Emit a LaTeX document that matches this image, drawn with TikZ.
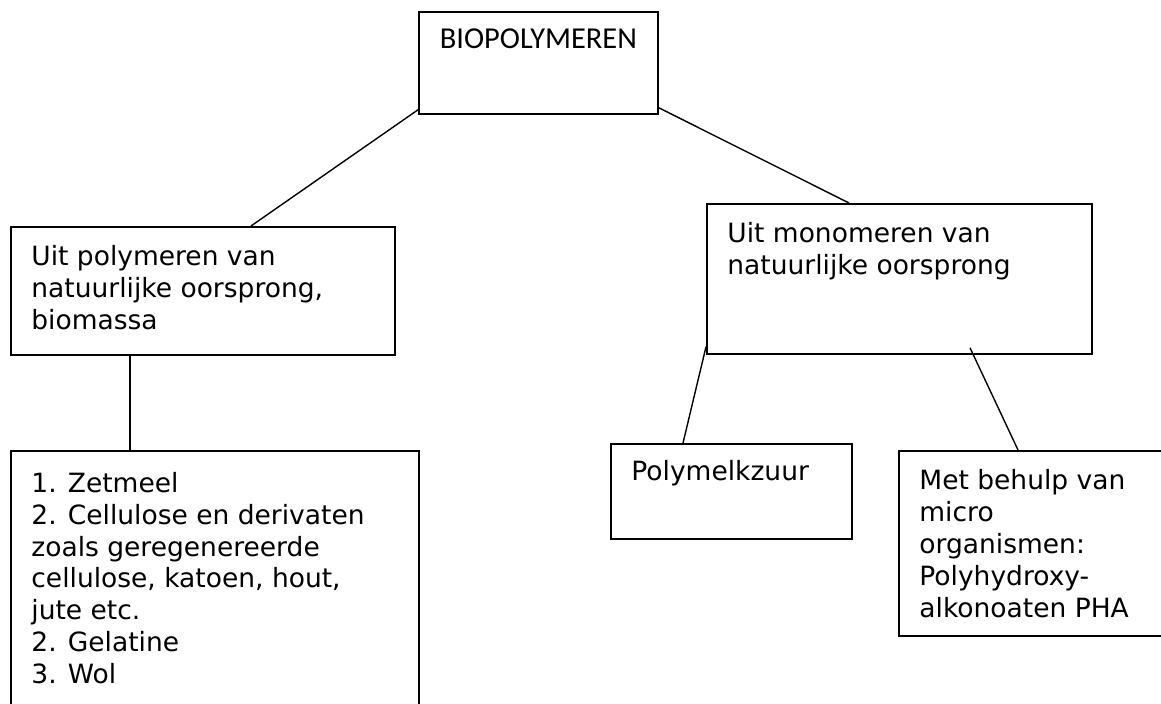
\documentclass[tikz,border=0pt]{standalone}
\usepackage{fontspec}
\newfontfamily\verdfont{DejaVu Sans}
\newfontfamily\califont{Carlito}
\usetikzlibrary{positioning}
\tikzset{blok/.style={draw=black, line width=.9pt, inner sep=0pt, anchor=north west}, lijn/.style={draw=black, line width=.7pt},
  tekst/.style={anchor=north west, align=left, inner xsep=10.5pt, inner ysep=9.5pt, font=\verdfont\fontsize{13.25}{15.9}\selectfont}}

\begin{document}
\begin{tikzpicture}[x=.5pt,y=-.5pt]
                 \useasboundingbox(0,0) rectangle (1161,704);
                 \clip(0,0) rectangle (1161,704);
                 \node[blok, minimum width=119.5pt, minimum height=51pt, label={[anchor=north, inner ysep=8.5pt, font=\califont\fontsize{15.2}{18}\selectfont]north:{BIOPOLYMEREN}}] (bio) at (418,11) {};
                 \node[blok, minimum width=192pt, minimum height=64pt, label={[tekst]north west:{Uit polymeren van\\natuurlijke oorsprong,\\biomassa}}] (nat) at (10,226) {};
                 \node[blok, minimum width=192.5pt, minimum height=75pt, label={[tekst]north west:{Uit monomeren van\\natuurlijke oorsprong}}] (mono) at (706,203) {};
                 \node[blok, minimum width=204pt, minimum height=150pt, label={[tekst, inner ysep=11pt]north west:{1. Zetmeel\\2. Cellulose en derivaten\\zoals geregenereerde\\cellulose, katoen, hout,\\jute etc.\\2. Gelatine\\3. Wol}}] (lijst) at (10,450) {};
                 \node[blok, minimum width=120.5pt, minimum height=47.5pt, label={[tekst, inner ysep=8.5pt]north west:{Polymelkzuur}}] (pla) at (610,443) {};
                 \node[blok, minimum width=160pt, minimum height=92.5pt, label={[tekst, font=\verdfont\fontsize{13.25}{16}\selectfont]north west:{Met behulp van\\micro\\organismen:\\Polyhydroxy-\\alkonoaten PHA}}] (pha) at (898,450) {};
                 \draw[lijn]([yshift=2.5pt]bio.south west)--([xshift=120.5pt]nat.north west);
                 \draw[lijn]([yshift=3.5pt]bio.south east)--([xshift=71.5pt]mono.north west);
                 \draw[lijn]([xshift=60pt]nat.south west)--([xshift=60pt]lijst.north west);
                 \draw[lijn]([yshift=4pt]mono.south west)--([xshift=36.5pt]pla.north west);
                 \draw[lijn]([xshift=132pt,yshift=3.5pt]mono.south west)--([xshift=60pt]pha.north west);
             \end{tikzpicture}
\end{document}
